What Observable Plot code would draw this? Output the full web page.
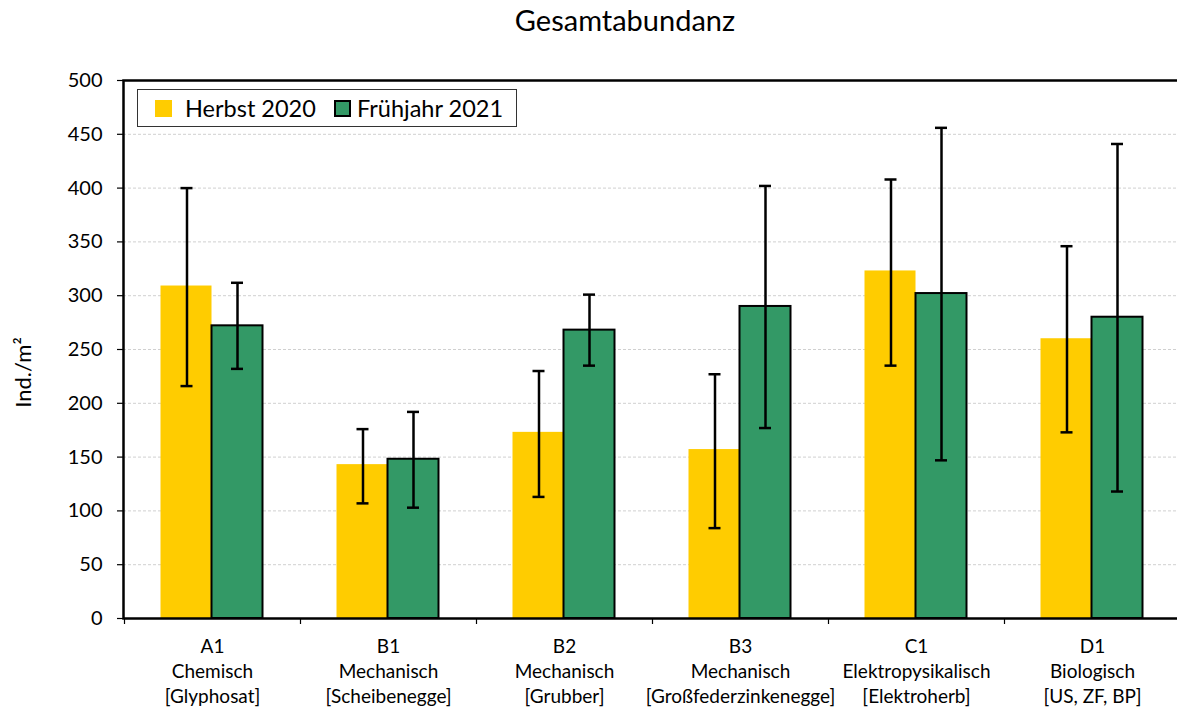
<!DOCTYPE html>
<html>
<head>
<meta charset="utf-8">
<script src="https://cdn.jsdelivr.net/npm/d3@7"></script>
<script src="https://cdn.jsdelivr.net/npm/@observablehq/plot@0.6"></script>
<style>
  html, body { margin: 0; padding: 0; background: #fff; }
  #wrap { position: relative; width: 1177px; height: 711px; font-family: Lato, "Open Sans", sans-serif; color: #000; }
  #title { height: 42px; line-height: 40px; font-size: 29px; text-align: center; padding-left: 73px; box-sizing: border-box; width: 1177px; }
  #legend { position: absolute; left: 137px; top: 89px; width: 380px; height: 38px; border: 1px solid #333; box-sizing: border-box; background: #fff; }
  .sw { position: absolute; top: 10px; width: 17px; height: 17px; box-sizing: border-box; }
  .lt { position: absolute; top: 0; line-height: 36px; font-size: 23.5px; white-space: nowrap; }
</style>
</head>
<body>
<div id="wrap">
  <div id="title"></div>
  <div id="chart"></div>
  <div id="legend"></div>
</div>
<script>
const title = "Gesamtabundanz";
const yLabel = "Ind./m²";
const categories = ["A1", "B1", "B2", "B3", "C1", "D1"];
const groupNames = ["Chemisch", "Mechanisch", "Mechanisch", "Mechanisch", "Elektropysikalisch", "Biologisch"];
const methodNames = ["[Glyphosat]", "[Scheibenegge]", "[Grubber]", "[Großfederzinkenegge]", "[Elektroherb]", "[US, ZF, BP]"];
const seriesNames = ["Herbst 2020", "Frühjahr 2021"];
const herbst = [309, 143, 173, 157, 323, 260];
const herbstLow = [216, 107, 113, 84, 235, 173];
const herbstHigh = [400, 176, 230, 227, 408, 346];
const fruehjahr = [272, 148, 268, 290, 302, 280];
const fruehjahrLow = [232, 103, 235, 177, 147, 118];
const fruehjahrHigh = [312, 192, 301, 402, 456, 441];
const yTicks = [0, 50, 100, 150, 200, 250, 300, 350, 400, 450, 500];
const colors = ["#FFCC00", "#339966"];

const rows = categories.map((c, i) => ({
  cat: c,
  label: c + "\n" + groupNames[i] + "\n" + methodNames[i],
  h: herbst[i], hLo: herbstLow[i], hHi: herbstHigh[i],
  f: fruehjahr[i], fLo: fruehjahrLow[i], fHi: fruehjahrHigh[i]
}));
const labelOf = new Map(rows.map(r => [r.cat, r.label]));

document.getElementById("title").textContent = title;

const err = {stroke: "black", strokeWidth: 2.5};
const plot = Plot.plot({
  width: 1177,
  height: 669,
  marginTop: 38,
  marginBottom: 93,
  marginLeft: 123,
  marginRight: -3,
  style: {fontFamily: "Lato, 'Open Sans', sans-serif", fontSize: "20px", color: "black", background: "white"},
  x: {type: "band", domain: categories, padding: 0, axis: null},
  y: {domain: [0, 500], axis: null},
  marks: [
    Plot.gridY(yTicks.filter(t => t > 0 && t < 500), {stroke: "#d0d0d0", strokeOpacity: 1, strokeDasharray: "3,2", strokeWidth: 1}),
    Plot.barY(rows, {x: "cat", y: "h", fill: colors[0], insetLeft: 36.5, insetRight: 88.5}),
    Plot.barY(rows, {x: "cat", y: "f", fill: colors[1], stroke: "black", strokeWidth: 2, insetLeft: 87.5, insetRight: 37.5}),
    Plot.ruleX(rows, {x: "cat", y1: "hLo", y2: "hHi", dx: -25.5, ...err}),
    Plot.tickY(rows, {x: "cat", y: "hHi", dx: -25.5, insetLeft: 82, insetRight: 82, ...err}),
    Plot.tickY(rows, {x: "cat", y: "hLo", dx: -25.5, insetLeft: 82, insetRight: 82, ...err}),
    Plot.ruleX(rows, {x: "cat", y1: "fLo", y2: "fHi", dx: 25, ...err}),
    Plot.tickY(rows, {x: "cat", y: "fHi", dx: 25, insetLeft: 82, insetRight: 82, ...err}),
    Plot.tickY(rows, {x: "cat", y: "fLo", dx: 25, insetLeft: 82, insetRight: 82, ...err}),
    Plot.frame({stroke: "black", strokeWidth: 2.5}),
    Plot.axisY(yTicks, {tickSize: 6, tickPadding: 15, fontSize: 20, label: null, strokeWidth: 1.2}),
    Plot.axisX({tickSize: 6, dx: -88, tickFormat: () => "", label: null, strokeWidth: 1.2}),
    Plot.axisX({tickSize: 0, tickPadding: 16, fontSize: 19, lineHeight: 1.34, tickFormat: d => labelOf.get(d), label: null}),
    Plot.text([yLabel], {frameAnchor: "left", dx: -100, dy: 23, rotate: -90, fontSize: 22, textAnchor: "middle"})
  ]
});
document.getElementById("chart").appendChild(plot);

const legend = document.getElementById("legend");
const legendItems = [
  {name: seriesNames[0], color: colors[0], sx: 17, tx: 47, border: "none"},
  {name: seriesNames[1], color: colors[1], sx: 196, tx: 219, border: "2px solid #000"}
];
for (const it of legendItems) {
  const s = document.createElement("div");
  s.className = "sw";
  s.style.left = it.sx + "px";
  s.style.background = it.color;
  s.style.border = it.border;
  legend.appendChild(s);
  const t = document.createElement("div");
  t.className = "lt";
  t.style.left = it.tx + "px";
  t.textContent = it.name;
  legend.appendChild(t);
}
</script>
</body>
</html>
